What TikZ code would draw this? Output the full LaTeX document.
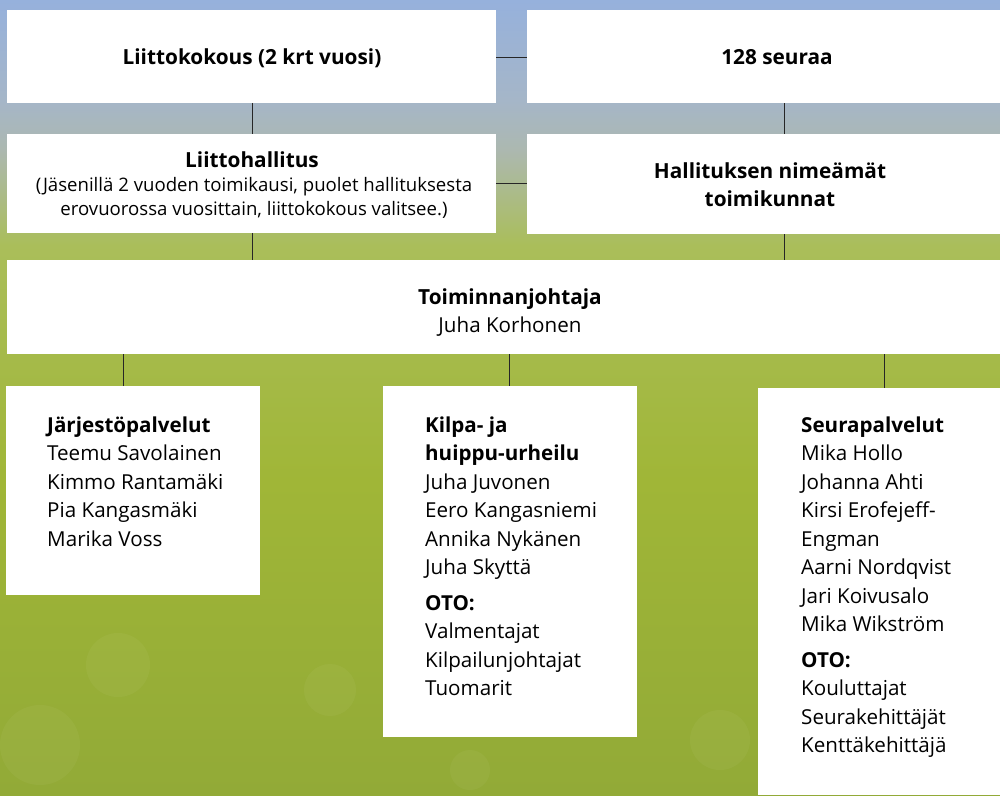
\documentclass[tikz,border=0pt]{standalone}
\usepackage{fontspec}
\setmainfont{Open Sans}
\begin{document}
\begin{tikzpicture}[x=1pt,y=-1pt,
  box/.style={fill=white,draw=none},
  conn/.style={draw=black!85,line width=0.9pt},
  toptext/.style={font=\bfseries\fontsize{20.8}{28}\selectfont,align=center,inner sep=0},
  listtext/.style={anchor=base west,inner sep=0}]
\useasboundingbox (0,0) rectangle (1000,795);
% background
\shade[top color={rgb,255:red,150;green,177;blue,220},bottom color={rgb,255:red,165;green,182;blue,200}] (0,0) rectangle (1000,100);
\shade[top color={rgb,255:red,165;green,182;blue,200},bottom color={rgb,255:red,172;green,184;blue,176}] (0,100) rectangle (1000,150);
\shade[top color={rgb,255:red,172;green,184;blue,176},bottom color={rgb,255:red,170;green,190;blue,90}] (0,150) rectangle (1000,245);
\shade[top color={rgb,255:red,170;green,190;blue,90},bottom color={rgb,255:red,160;green,182;blue,55}] (0,245) rectangle (1000,480);
\shade[top color={rgb,255:red,160;green,182;blue,55},bottom color={rgb,255:red,146;green,170;blue,55}] (0,480) rectangle (1000,795);
% bokeh
\foreach \cx/\cy/\r in {118/665/32, 40/745/40, 330/690/26, 720/740/30, 610/560/22, 950/520/18, 470/770/20}
  \fill[white,opacity=0.04] (\cx,\cy) circle (\r);
% boxes
\path[box] (7,10) rectangle (496,103);
\path[box] (527,10) rectangle (1000,103);
\path[box] (7,134) rectangle (496,233);
\path[box] (527,134) rectangle (1000,234);
\path[box] (7,260) rectangle (1000,354);
\path[box] (6,386) rectangle (260,595);
\path[box] (383,386) rectangle (637,737);
\path[box] (758,388) rectangle (1000,795);
% connector end coordinates
\coordinate (c1r) at (496,57); \coordinate (c2l) at (527,57);
\coordinate (c3r) at (496,183); \coordinate (c4l) at (527,183);
\coordinate (c1b) at (252,103); \coordinate (c3t) at (252,134);
\coordinate (c3b) at (252,233); \coordinate (c5t1) at (252,260);
\coordinate (c2b) at (784,103); \coordinate (c4t) at (784,134);
\coordinate (c4b) at (784,234); \coordinate (c5t2) at (784,260);
\coordinate (c5b1) at (123,354); \coordinate (c6t) at (123,386);
\coordinate (c5b2) at (509,354); \coordinate (c7t) at (509,386);
\coordinate (c5b3) at (884,354); \coordinate (c8t) at (884,388);
\draw[conn] (c1r) -- (c2l);
\draw[conn] (c3r) -- (c4l);
\draw[conn] (c1b) -- (c3t);
\draw[conn] (c3b) -- (c5t1);
\draw[conn] (c2b) -- (c4t);
\draw[conn] (c4b) -- (c5t2);
\draw[conn] (c5b1) -- (c6t);
\draw[conn] (c5b2) -- (c7t);
\draw[conn] (c5b3) -- (c8t);
% texts
\node[toptext,anchor=base] (t1) at (252,64) {Liittokokous (2 krt vuosi)};
\node[toptext,anchor=base] (t2) at (777,64) {128 seuraa};
\node[toptext,anchor=base] (t3) at (252,167) {Liittohallitus};
\node[inner sep=0,align=center,anchor=base,font=\fontsize{18.6}{24}\selectfont] (t3b) at (254,215) {(Jäsenillä 2 vuoden toimikausi, puolet hallituksesta\\erovuorossa vuosittain, liittokokous valitsee.)};
\node[toptext,anchor=base] (t4) at (770,206) {Hallituksen nimeämät\\toimikunnat};
\node[anchor=base,inner sep=0,font=\bfseries\fontsize{20.8}{28}\selectfont] (t5) at (510,304) {Toiminnanjohtaja};
\node[anchor=base,inner sep=0,font=\fontsize{20.6}{28}\selectfont] (t5b) at (510,332) {Juha Korhonen};
\node[listtext] (t6) at (47,432) {\parbox[t]{210pt}{\fontsize{20.6}{28.5}\selectfont\raggedright
  \textbf{Järjestöpalvelut}\\Teemu Savolainen\\Kimmo Rantamäki\\Pia Kangasmäki\\Marika Voss}};
\node[listtext] (t7) at (425,432) {\parbox[t]{210pt}{\fontsize{20.6}{28.5}\selectfont\raggedright
  \textbf{Kilpa- ja}\\\textbf{huippu-urheilu}\\Juha Juvonen\\Eero Kangasniemi\\Annika Nykänen\\Juha Skyttä\\[7pt]\textbf{OTO:}\\Valmentajat\\Kilpailunjohtajat\\Tuomarit}};
\node[listtext] (t8) at (801,432) {\parbox[t]{190pt}{\fontsize{20.6}{28.5}\selectfont\raggedright
  \textbf{Seurapalvelut}\\Mika Hollo\\Johanna Ahti\\Kirsi Erofejeff-\\Engman\\Aarni Nordqvist\\Jari Koivusalo\\Mika Wikström\\[7pt]\textbf{OTO:}\\Kouluttajat\\Seurakehittäjät\\Kenttäkehittäjä}};
\end{tikzpicture}
\end{document}
